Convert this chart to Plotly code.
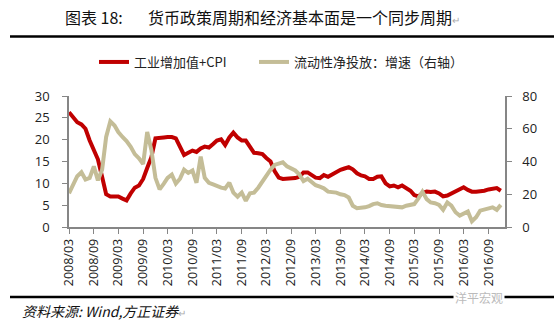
import pandas as pd
import plotly.graph_objects as go

# ---- data (monthly, 2008/03 .. 2016/12) ----
months = pd.date_range("2008-03-01", periods=106, freq="MS")

ip_cpi = [26.3, 25.0, 24.0, 23.5, 22.5, 19.8, 17.5, 15.5, 11.5, 7.5,
          7.0, 7.0, 7.0, 6.5, 6.1, 7.7, 9.0, 9.5, 11.0, 13.5,
          16.0, 20.3, 20.5, 20.5, 20.6, 20.6, 20.3, 18.4, 16.5, 17.0,
          17.5, 17.2, 18.0, 18.4, 18.2, 19.0, 19.8, 20.1, 18.8, 20.5,
          21.6, 20.5, 19.8, 19.8, 18.5, 17.0, 16.9, 16.7, 15.8, 15.0,
          12.8, 11.3, 11.0, 11.0, 11.1, 11.2, 11.5, 12.5, 12.5, 11.9,
          11.3, 11.2, 11.9, 11.5, 12.0, 12.7, 13.1, 13.4, 13.7, 13.2,
          12.3, 11.8, 11.6, 11.0, 11.0, 11.5, 11.6, 10.0, 9.3, 9.5,
          9.1, 9.5, 9.0, 8.3, 7.3, 7.0, 7.8, 8.1, 8.0, 8.1,
          7.7, 7.0, 7.2, 7.7, 8.0, 8.5, 9.1, 8.5, 8.1, 8.1,
          8.1, 8.3, 8.6, 8.8, 8.9, 8.3]

liquidity = [20.6, 25.6, 31.0, 33.4, 29.0, 30.0, 37.0, 28.5, 35.0, 55.0,
             64.5, 62.0, 58.0, 55.0, 52.5, 49.0, 44.5, 42.0, 38.5, 58.0,
             47.0, 30.0, 23.0, 26.5, 30.0, 32.0, 26.5, 29.5, 35.0, 33.0,
             34.5, 27.0, 43.0, 30.0, 27.0, 26.0, 25.0, 24.0, 23.5, 27.0,
             21.0, 18.5, 21.0, 16.0, 20.6, 21.0, 24.0, 28.0, 32.0, 35.0,
             37.9, 39.0, 39.5, 37.0, 36.0, 34.5, 32.0, 28.0, 29.5, 27.0,
             25.5, 24.6, 23.6, 21.6, 21.5, 21.0, 20.0, 19.5, 18.0, 13.0,
             11.5, 11.5, 12.0, 12.8, 14.0, 14.5, 13.4, 13.0, 12.6, 12.5,
             12.0, 12.0, 13.0, 13.5, 14.0, 17.5, 21.6, 17.0, 15.0, 14.5,
             13.5, 10.5, 15.0, 13.0, 9.0, 7.0, 8.0, 9.5, 3.5, 6.0,
             10.0, 10.8, 11.2, 12.0, 10.5, 13.5]

tick_dates = pd.date_range("2008-03-01", "2016-09-01", freq="6MS")
tick_text = [d.strftime("%Y/%m") for d in tick_dates]

series_names = ["工业增加值+CPI", "流动性净投放：增速（右轴）"]
title_label = "图表 18:"
title_text = "货币政策周期和经济基本面是一个同步周期"
source_text = "资料来源: Wind,方正证券"

RED = "#C00000"
TAN = "#C4BD97"
AXC = "#868686"

fig = go.Figure()
fig.add_trace(go.Scatter(x=months, y=ip_cpi, name=series_names[0], mode="lines",
                         line=dict(color=RED, width=4), yaxis="y", legend="legend"))
fig.add_trace(go.Scatter(x=months, y=liquidity, name=series_names[1], mode="lines",
                         line=dict(color=TAN, width=4), yaxis="y2", legend="legend2"))

W, H = 554, 327
L, R, T, B = 69, 49, 96, 100
pw, ph = W - L - R, H - T - B


def px(x):
    return (x - L) / pw


def py(y):
    return (H - B - y) / ph


tickfont = dict(family="Open Sans, Noto Sans, sans-serif", size=13, color="#222")
legfont = dict(family="Noto Sans CJK SC", size=13, color="#222")

fig.update_layout(
    width=W, height=H,
    margin=dict(l=L, r=R, t=T, b=B),
    paper_bgcolor="white", plot_bgcolor="white",
    showlegend=True,
    legend=dict(orientation="h", x=px(94), y=py(62), xanchor="left", yanchor="middle",
                font=legfont, itemwidth=30, bgcolor="rgba(0,0,0,0)"),
    legend2=dict(orientation="h", x=px(254), y=py(62), xanchor="left", yanchor="middle",
                 font=legfont, itemwidth=30, bgcolor="rgba(0,0,0,0)"),
    xaxis=dict(type="date", range=["2008-03-01", "2017-01-01"],
               tickmode="array", tickvals=list(tick_dates), ticktext=tick_text,
               tickangle=-90, tickfont=dict(family="Open Sans, Noto Sans, sans-serif", size=12.5, color="#222"),
               showgrid=False, zeroline=False, showline=True, linecolor=AXC, linewidth=1.5,
               ticks="outside", ticklen=5, tickcolor=AXC),
    yaxis=dict(range=[0, 30], dtick=5, showgrid=False, zeroline=False,
               showline=True, linecolor=AXC, linewidth=1.5, ticks="outside", ticklen=5,
               tickcolor=AXC, tickfont=tickfont, ticklabelstandoff=10),
    yaxis2=dict(range=[0, 80], dtick=20, overlaying="y", side="right", showgrid=False,
                zeroline=False, showline=True, linecolor=AXC, linewidth=1.5, ticks="outside",
                ticklen=5, tickcolor=AXC, tickfont=tickfont, ticklabelstandoff=8),
)

# title, rules, footer
title_font = dict(family="Noto Sans CJK SC", size=16, color="#111")
fig.add_annotation(xref="paper", yref="paper", x=px(63), y=py(17), xanchor="left", yanchor="middle",
                   text=title_label, showarrow=False, font=title_font)
fig.add_annotation(xref="paper", yref="paper", x=px(146), y=py(17), xanchor="left", yanchor="middle",
                   text=title_text + "<span style='color:#aaa;font-size:10px'>↵</span>",
                   showarrow=False, font=title_font)
fig.add_shape(type="line", xref="paper", yref="paper", x0=px(10), x1=px(554), y0=py(36.5), y1=py(36.5),
              line=dict(color="black", width=2.5))
fig.add_shape(type="line", xref="paper", yref="paper", x0=px(10), x1=px(554), y0=py(297), y1=py(297),
              line=dict(color="black", width=2.5))
fig.add_annotation(xref="paper", yref="paper", x=px(20), y=py(311), xanchor="left", yanchor="middle",
                   text="<i>" + source_text + "</i><span style='color:#aaa;font-size:10px'>↵</span>",
                   showarrow=False, font=dict(family="Noto Sans CJK SC", size=14, color="#111"))
fig.add_annotation(xref="paper", yref="paper", x=px(505), y=py(297), xanchor="right", yanchor="middle",
                   text="洋平宏观", showarrow=False, bgcolor="white",
                   font=dict(family="Noto Sans CJK SC", size=12, color="#bbb"))

fig.write_html("out.html")
